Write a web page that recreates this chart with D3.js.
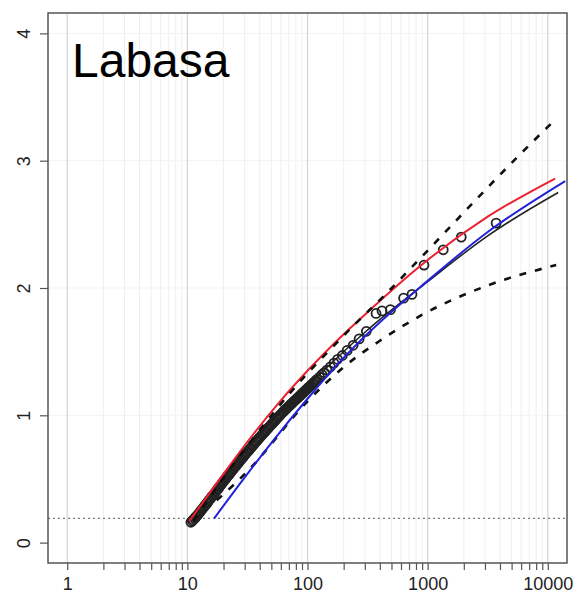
<!DOCTYPE html>
<html>
<head>
<meta charset="utf-8">
<script src="https://cdn.jsdelivr.net/npm/d3@7"></script>
<style>
  body { margin: 0; background: #fff; }
  svg { display: block; font-family: "Liberation Sans", Arial, sans-serif; }
</style>
</head>
<body>
<svg id="chart" width="585" height="594"></svg>
<script>
// ---- data -------------------------------------------------------------
const station = "Labasa";
const xTickValues = [1, 10, 100, 1000, 10000];
const xTickLabels = ["1", "10", "100", "1000", "10000"];
const yTickValues = [0, 1, 2, 3, 4];
const yTickLabels = ["0", "1", "2", "3", "4"];
const threshold = 0.19;

// observed exceedances: return period (years) and level
const obsPeriod = [
  10.7, 11.0, 11.2, 11.5, 11.7, 12.0, 12.3, 12.6, 12.9, 13.2,
  13.5, 13.8, 14.1, 14.5, 14.8, 15.1, 15.5, 15.8, 16.2, 16.6,
  17.0, 17.4, 17.8, 18.2, 18.6, 19.1, 19.5, 20.0, 20.4, 20.9,
  21.4, 21.9, 22.4, 22.9, 23.4, 24.0, 24.5, 25.1, 25.7, 26.3,
  26.9, 27.5, 28.2, 28.8, 29.5, 30.2, 30.9, 31.6, 32.4, 33.1,
  33.9, 34.7, 35.5, 36.3, 37.2, 38.0, 38.9, 39.8, 40.7, 41.7,
  42.7, 43.7, 44.7, 45.7, 46.8, 47.9, 49.0, 50.1, 51.3, 52.5,
  53.7, 55.0, 56.2, 57.5, 58.9, 60.3, 61.7, 63.1, 64.6, 66.1,
  67.6, 69.2, 70.8, 72.4, 74.1, 75.9, 77.6, 79.4, 81.3, 83.2,
  85.1, 87.1, 89.1, 91.2, 93.3, 95.5, 97.7, 100, 102, 105,
  107, 110, 112, 115, 117, 120, 126, 132, 138, 145,
  155, 166, 178, 195, 214, 240, 269, 309, 372, 417,
  490, 631, 741, 933, 1349, 1905, 3715];
const obsLevel = [
  0.160, 0.170, 0.180, 0.190, 0.200, 0.210, 0.222, 0.235, 0.247, 0.260,
  0.270, 0.283, 0.295, 0.308, 0.318, 0.332, 0.343, 0.355, 0.368, 0.380,
  0.392, 0.405, 0.418, 0.428, 0.442, 0.455, 0.466, 0.480, 0.492, 0.503,
  0.516, 0.528, 0.538, 0.551, 0.563, 0.574, 0.586, 0.598, 0.609, 0.622,
  0.632, 0.645, 0.656, 0.668, 0.678, 0.690, 0.702, 0.712, 0.724, 0.735,
  0.745, 0.758, 0.768, 0.780, 0.791, 0.801, 0.813, 0.823, 0.834, 0.845,
  0.855, 0.866, 0.876, 0.887, 0.897, 0.908, 0.918, 0.928, 0.939, 0.949,
  0.958, 0.970, 0.979, 0.990, 1.000, 1.010, 1.020, 1.030, 1.039, 1.049,
  1.057, 1.067, 1.075, 1.085, 1.094, 1.103, 1.112, 1.120, 1.130, 1.138,
  1.148, 1.156, 1.166, 1.174, 1.184, 1.192, 1.202, 1.210, 1.219, 1.228,
  1.237, 1.246, 1.255, 1.264, 1.273, 1.282, 1.300, 1.320, 1.335, 1.355,
  1.380, 1.410, 1.440, 1.470, 1.510, 1.550, 1.600, 1.660, 1.800, 1.820,
  1.830, 1.920, 1.950, 2.180, 2.300, 2.400, 2.510];

// fitted return-level curves
const redPeriod = [10.4, 21.1, 32.7, 57.9, 100, 173, 316, 574, 1000, 3162, 11510];
const redLevel  = [0.17, 0.57, 0.81, 1.10, 1.35, 1.58, 1.81, 2.03, 2.22, 2.56, 2.86];

const bluePeriod = [16.7, 31.6, 50.7, 100, 182, 316, 982, 3162, 13960];
const blueLevel  = [0.19, 0.54, 0.79, 1.13, 1.41, 1.64, 2.05, 2.44, 2.84];

const fitPeriod = [10.7, 20.0, 31.6, 56.2, 100, 316, 1000, 3162, 12220];
const fitLevel  = [0.17, 0.51, 0.74, 1.00, 1.23, 1.67, 2.05, 2.41, 2.75];

const upperPeriod = [11.2, 31.6, 100, 126, 245, 457, 841, 6026, 11750];
const upperLevel  = [0.17, 0.76, 1.33, 1.43, 1.71, 1.96, 2.22, 3.06, 3.33];

const lowerPeriod = [11.0, 31.6, 100, 195, 407, 902, 3162, 11750];
const lowerLevel  = [0.17, 0.56, 1.11, 1.37, 1.59, 1.79, 2.02, 2.18];

// ---- layout -----------------------------------------------------------
const svg = d3.select("#chart");
const plotLeft = 48, plotRight = 567, plotTop = 13, plotBottom = 563;

const x = d3.scaleLog().domain([Math.pow(10, -0.16), Math.pow(10, 4.16)]).range([plotLeft, plotRight]);
const y = d3.scaleLinear().domain([-0.16, 4.16]).range([plotBottom, plotTop]);

svg.append("rect").attr("width", 585).attr("height", 594).attr("fill", "#fff");

svg.append("defs").append("clipPath").attr("id", "plotClip")
  .append("rect").attr("x", plotLeft).attr("y", plotTop)
  .attr("width", plotRight - plotLeft).attr("height", plotBottom - plotTop);

// grid
const minorTicks = [];
for (let e = 0; e < 4; e++) for (let k = 2; k <= 9; k++) minorTicks.push(k * Math.pow(10, e));

const grid = svg.append("g");
grid.selectAll("line.minor").data(minorTicks).join("line")
  .attr("class", "minor")
  .attr("x1", d => x(d)).attr("x2", d => x(d)).attr("y1", plotTop).attr("y2", plotBottom)
  .attr("stroke", "#efefef").attr("stroke-width", 1);
grid.selectAll("line.h").data([1, 2, 3, 4]).join("line")
  .attr("class", "h")
  .attr("x1", plotLeft).attr("x2", plotRight).attr("y1", d => y(d)).attr("y2", d => y(d))
  .attr("stroke", "#f3f3f3").attr("stroke-width", 1);
grid.selectAll("line.major").data(xTickValues).join("line")
  .attr("class", "major")
  .attr("x1", d => x(d)).attr("x2", d => x(d)).attr("y1", plotTop).attr("y2", plotBottom)
  .attr("stroke", "#d4d4d4").attr("stroke-width", 1.2);

// threshold
svg.append("line")
  .attr("x1", plotLeft).attr("x2", plotRight).attr("y1", y(threshold)).attr("y2", y(threshold))
  .attr("stroke", "#777").attr("stroke-width", 1.2).attr("stroke-dasharray", "2,3");

const plot = svg.append("g").attr("clip-path", "url(#plotClip)");

const line = d3.line().curve(d3.curveMonotoneX);
function drawCurve(periods, levels, color, width, dash) {
  const pts = periods.map((p, i) => [x(p), y(levels[i])]);
  const path = plot.append("path").attr("d", line(pts))
    .attr("fill", "none").attr("stroke", color).attr("stroke-width", width)
    .attr("stroke-linecap", "butt");
  if (dash) path.attr("stroke-dasharray", dash);
}

drawCurve(lowerPeriod, lowerLevel, "#111", 2.6, "7,9");
drawCurve(fitPeriod, fitLevel, "#222", 1.6);

// observed points
plot.append("g").selectAll("circle").data(obsPeriod).join("circle")
  .attr("cx", d => x(d)).attr("cy", (d, i) => y(obsLevel[i])).attr("r", 4.5)
  .attr("fill", "none").attr("stroke", "#222").attr("stroke-width", 1.8);

drawCurve(redPeriod, redLevel, "#ec2030", 2);
drawCurve(bluePeriod, blueLevel, "#2222d8", 2);
drawCurve(upperPeriod, upperLevel, "#111", 2.6, "7,9");

// frame
svg.append("rect").attr("x", plotLeft).attr("y", plotTop)
  .attr("width", plotRight - plotLeft).attr("height", plotBottom - plotTop)
  .attr("fill", "none").attr("stroke", "#555").attr("stroke-width", 1.5);

// x axis
const xAxis = d3.axisBottom(x)
  .tickValues(xTickValues.concat(minorTicks))
  .tickSize(7)
  .tickFormat(d => { const i = xTickValues.indexOf(d); return i >= 0 ? xTickLabels[i] : ""; });
const gx = svg.append("g").attr("transform", `translate(0,${plotBottom})`).call(xAxis);
gx.select(".domain").remove();
gx.selectAll(".tick line").attr("stroke", "#555").attr("stroke-width", 1.2);
gx.selectAll(".tick text").attr("y", 27).attr("dy", 0)
  .attr("font-size", 18).attr("fill", "#222")
  .attr("font-family", "Liberation Sans, Arial, sans-serif");

// y axis
const yAxis = d3.axisLeft(y).tickValues(yTickValues).tickSize(8)
  .tickFormat((d, i) => yTickLabels[i]);
const gy = svg.append("g").attr("transform", `translate(${plotLeft},0)`).call(yAxis);
gy.select(".domain").remove();
gy.selectAll(".tick line").attr("stroke", "#555").attr("stroke-width", 1.2);
gy.selectAll(".tick text")
  .attr("x", 0).attr("y", 0).attr("dy", 0)
  .attr("transform", "translate(-18,0) rotate(-90)")
  .attr("text-anchor", "middle")
  .attr("font-size", 18).attr("fill", "#222")
  .attr("font-family", "Liberation Sans, Arial, sans-serif");

// station label
svg.append("text").attr("x", 72).attr("y", 77)
  .attr("font-size", 48).attr("fill", "#000")
  .attr("font-family", "Liberation Sans, Arial, sans-serif")
  .text(station);
</script>
</body>
</html>
